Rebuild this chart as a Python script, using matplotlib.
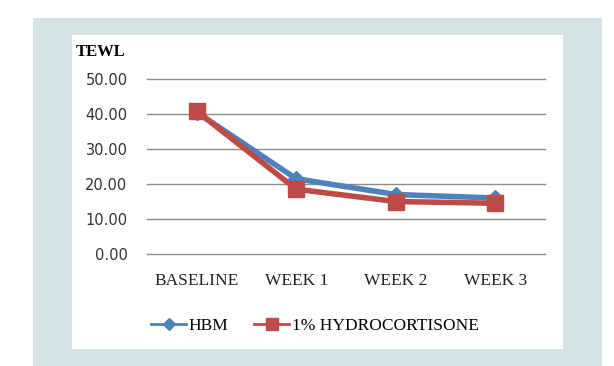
import matplotlib.pyplot as plt
from matplotlib.patches import Rectangle

categories = ['BASELINE', 'WEEK 1', 'WEEK 2', 'WEEK 3']
hbm = [40.5, 21.5, 17.0, 16.0]
hydro = [40.8, 18.5, 15.0, 14.5]
yticks = [0, 10, 20, 30, 40, 50]

plt.rcParams['font.family'] = ['Liberation Serif', 'DejaVu Serif']

W, H = 614, 366
fig = plt.figure(figsize=(W / 100, H / 100), dpi=100)
fig.patch.set_facecolor('white')

# light blue-grey frame and white inner panel
fig.patches.append(Rectangle((33 / W, 0), (602 - 33) / W, (366 - 18) / H,
                             transform=fig.transFigure, facecolor='#d5e3e3',
                             edgecolor='none', zorder=0))
fig.patches.append(Rectangle((72 / W, (366 - 349) / H), (563 - 72) / W, (349 - 35) / H,
                             transform=fig.transFigure, facecolor='white',
                             edgecolor='none', zorder=1))

ax = fig.add_axes([147 / W, (366 - 254) / H, (545 - 147) / W, (254 - 79) / H])
ax.set_facecolor('none')
ax.set_zorder(2)

x = range(len(categories))
ax.plot(x, hbm, color='#4f81bd', lw=4, marker='D', ms=8, zorder=3, label='HBM')
ax.plot(x, hydro, color='#be4b48', lw=4, marker='s', ms=12, zorder=4,
        label='1% HYDROCORTISONE')

ax.set_xlim(-0.5, 3.5)
ax.set_ylim(0, 50)
ax.set_yticks(yticks)
ax.set_yticklabels(['%.2f' % v for v in yticks], fontsize=10.5, color='#333333',
                   family='DejaVu Sans')
ax.set_xticks(list(x))
ax.set_xticklabels(categories, fontsize=12.5, color='#222222')
ax.tick_params(length=0)
ax.tick_params(axis='y', pad=14)
ax.tick_params(axis='x', pad=14)
ax.grid(axis='y', color='#8c8c8c', lw=1)
for gl in ax.get_ygridlines():
    gl.set_clip_on(False)
ax.set_axisbelow(True)
for s in ax.spines.values():
    s.set_visible(False)

fig.text(76 / W, 1 - 52 / H, 'TEWL', fontsize=12, fontweight='bold', va='center')

leg = fig.legend(loc='center', bbox_to_anchor=(315 / W, 1 - 326 / H), ncol=2,
                 frameon=False, fontsize=12.5, handlelength=2.0, handletextpad=0.15,
                 columnspacing=1.5)
for h in leg.legend_handles:
    h.set_linewidth(2)
leg.legend_handles[0].set_markersize(6)
leg.legend_handles[1].set_markersize(8)

fig.savefig('out.png', dpi=100)
